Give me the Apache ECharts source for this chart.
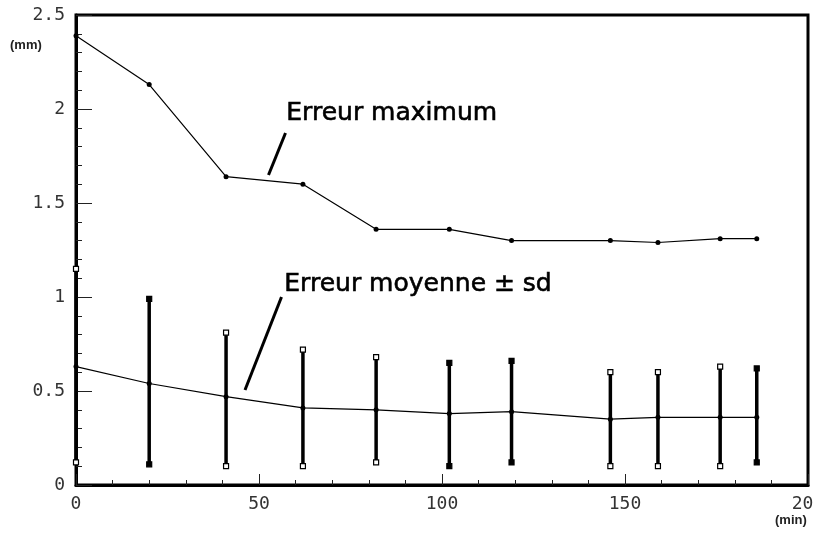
<!DOCTYPE html>
<html>
<head>
<meta charset="utf-8">
<script src="https://cdn.jsdelivr.net/npm/echarts@6/dist/echarts.min.js"></script>
<style>
  html, body { margin: 0; padding: 0; background: #fff; }
  #chart { width: 814px; height: 537px; }
</style>
</head>
<body>
<div id="chart"></div>
<script>
// Sampling times (min)
const times = [0, 20, 41, 62, 82, 102, 119, 146, 159, 176, 186];
// Maximum error at each time (mm)
const maxError = [2.39, 2.13, 1.64, 1.60, 1.36, 1.36, 1.30, 1.30, 1.29, 1.31, 1.31];
// Mean error and the ends of the ± sd bars (mm)
const meanError = [0.63, 0.54, 0.47, 0.41, 0.40, 0.38, 0.39, 0.35, 0.36, 0.36, 0.36];
const sdHigh = [1.15, 0.99, 0.81, 0.72, 0.68, 0.65, 0.66, 0.60, 0.60, 0.63, 0.62];
const sdLow  = [0.12, 0.11, 0.10, 0.10, 0.12, 0.10, 0.12, 0.10, 0.10, 0.10, 0.12];
// Axis ticks
const xTicks = [0, 50, 100, 150, 200];
const yTicks = [0, 0.5, 1, 1.5, 2, 2.5];

// bars whose end caps are drawn hollow
const hollowCaps = new Set([0, 2, 3, 4, 7, 8, 9]);

const chart = echarts.init(document.getElementById('chart'), null, { renderer: 'canvas' });

const tickFont = { fontFamily: 'DejaVu Sans Mono', fontSize: 18, color: '#333' };

const barData = times.map((t, i) => [t, sdLow[i], sdHigh[i], i]);

chart.setOption({
  animation: false,
  backgroundColor: '#fff',
  grid: {
    left: 76, top: 15, right: 6, bottom: 52,
    containLabel: false, outerBoundsMode: 'none',
    show: true, borderColor: '#000', borderWidth: 3, backgroundColor: 'transparent'
  },
  xAxis: {
    type: 'value',
    min: xTicks[0], max: xTicks[xTicks.length - 1], interval: 50,
    axisLine: { show: true, onZero: false, lineStyle: { color: '#000', width: 3 } },
    axisTick: { show: true, inside: true, length: 11, lineStyle: { color: '#222', width: 1 } },
    minorTick: { show: true, splitNumber: 5, length: 5, lineStyle: { color: '#222', width: 1 } },
    splitLine: { show: false },
    axisLabel: Object.assign({ margin: 10 }, tickFont)
  },
  yAxis: {
    type: 'value',
    min: yTicks[0], max: yTicks[yTicks.length - 1], interval: 0.5,
    axisLine: { show: true, onZero: false, lineStyle: { color: '#000', width: 3 } },
    axisTick: { show: true, inside: true, length: 16, lineStyle: { color: '#222', width: 1 } },
    minorTick: { show: true, splitNumber: 5, length: 6, lineStyle: { color: '#222', width: 1 } },
    splitLine: { show: false },
    axisLabel: Object.assign({ margin: 11 }, tickFont)
  },
  series: [
    {
      type: 'line',
      data: times.map((t, i) => [t, maxError[i]]),
      symbol: 'circle', symbolSize: 5,
      lineStyle: { color: '#000', width: 1.2 },
      itemStyle: { color: '#000' },
      z: 3
    },
    {
      type: 'line',
      data: times.map((t, i) => [t, meanError[i]]),
      symbol: 'circle', symbolSize: 5,
      lineStyle: { color: '#000', width: 1.2 },
      itemStyle: { color: '#000' },
      z: 4
    },
    {
      type: 'custom',
      data: barData,
      z: 3,
      renderItem: function (params, api) {
        const x = api.value(0);
        const lo = api.coord([x, api.value(1)]);
        const hi = api.coord([x, api.value(2)]);
        const hollow = hollowCaps.has(api.value(3));
        const cap = (p) => ({
          type: 'rect',
          shape: { x: p[0] - 2.5, y: p[1] - 2.5, width: 5, height: 5 },
          style: { fill: hollow ? '#fff' : '#000', stroke: '#000', lineWidth: 1.2 }
        });
        return {
          type: 'group',
          children: [
            {
              type: 'line',
              shape: { x1: lo[0], y1: lo[1], x2: hi[0], y2: hi[1] },
              style: { stroke: '#000', lineWidth: 3.5 }
            },
            cap(lo),
            cap(hi)
          ]
        };
      }
    }
  ],
  graphic: [
    {
      type: 'text', left: 10, top: 39,
      style: { text: '(mm)', fontFamily: 'Liberation Sans', fontSize: 13, fontWeight: 'bold', fill: '#222' }
    },
    {
      type: 'text', left: 775, top: 514,
      style: { text: '(min)', fontFamily: 'Liberation Sans', fontSize: 13, fontWeight: 'bold', fill: '#222' }
    },
    {
      type: 'text', left: 286, top: 101,
      style: { text: 'Erreur maximum', fontFamily: 'DejaVu Sans', fontSize: 25, fill: '#000', stroke: '#000', lineWidth: 0.6 }
    },
    {
      type: 'line', shape: { x1: 285.5, y1: 133, x2: 268.5, y2: 175 },
      style: { stroke: '#000', lineWidth: 3 }
    },
    {
      type: 'text', left: 284, top: 272,
      style: { text: 'Erreur moyenne \u00b1 sd', fontFamily: 'DejaVu Sans', fontSize: 25, fill: '#000', stroke: '#000', lineWidth: 0.6 }
    },
    {
      type: 'line', shape: { x1: 281.5, y1: 297, x2: 245, y2: 390 },
      style: { stroke: '#000', lineWidth: 3 }
    }
  ]
});
</script>
</body>
</html>
